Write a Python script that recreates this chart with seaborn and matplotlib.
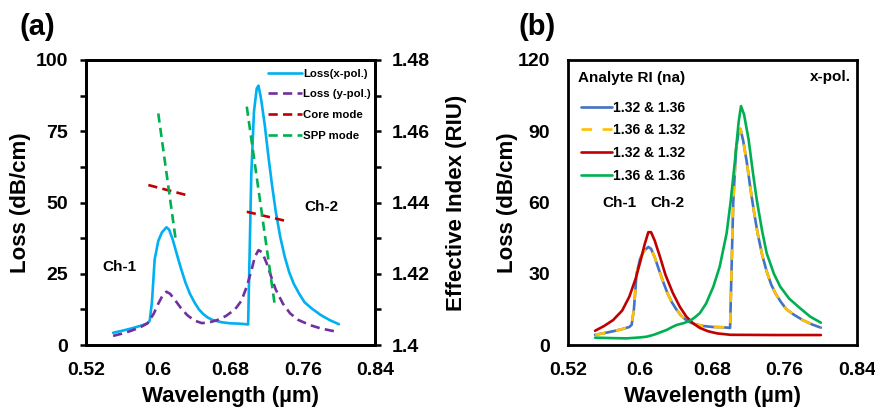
import numpy as np
import pandas as pd
import seaborn as sns
import matplotlib
matplotlib.use("Agg")
import matplotlib.pyplot as plt
from matplotlib.ticker import MultipleLocator

# ---------------- data ----------------
# Panel (a): loss spectra (x-pol, y-pol)
wl_x = [0.55, 0.56, 0.57, 0.58, 0.588, 0.5905, 0.593, 0.596, 0.600, 0.604, 0.609, 0.612,
        0.616, 0.620, 0.625, 0.630, 0.635, 0.640, 0.645, 0.650, 0.655, 0.660, 0.670,
        0.680, 0.690, 0.697, 0.6995, 0.701, 0.703, 0.706, 0.709, 0.711, 0.714, 0.718,
        0.722, 0.726, 0.730, 0.735, 0.740, 0.745, 0.750, 0.756, 0.762, 0.770, 0.780,
        0.790, 0.800]
loss_x = [4.3, 5.0, 5.8, 6.7, 7.6, 8.5, 15, 30, 36.5, 39.5, 41.3, 40.5,
          37, 32.5, 27, 22, 18, 15, 12.5, 10.8, 9.6, 8.8, 8.0,
          7.6, 7.5, 7.3, 7.2, 30, 60, 82, 90, 91, 86, 77,
          66, 56, 47, 38, 31, 25.5, 21.5, 18, 15, 12.8, 10.5,
          8.7, 7.3]

wl_y = [0.55, 0.56, 0.57, 0.58, 0.588, 0.595, 0.600, 0.605, 0.609, 0.613, 0.618, 0.625,
        0.632, 0.640, 0.648, 0.655, 0.665, 0.675, 0.685, 0.692, 0.698, 0.703, 0.707,
        0.711, 0.715, 0.720, 0.725, 0.730, 0.738, 0.746, 0.755, 0.768, 0.780, 0.797, 0.800]
loss_y = [3.2, 4.0, 5.0, 6.2, 7.6, 11, 14.5, 17.5, 18.7, 18, 16, 13,
          10.5, 8.6, 7.7, 7.8, 8.7, 10.2, 12.5, 15.5, 20.5, 26, 31,
          33.3, 32.5, 28.7, 24, 19.5, 14.5, 11.1, 8.8, 7.0, 5.8, 4.7, 4.5]

# Effective index (right axis)
core1_wl = [0.589, 0.631]
core1_n = [1.4449, 1.4421]
core2_wl = [0.698, 0.740]
core2_n = [1.4374, 1.4349]
spp1_wl = [0.600, 0.6196]
spp1_n = [1.4650, 1.4290]
spp2_wl = [0.698, 0.729]
spp2_n = [1.4669, 1.4112]

# Panel (b): x-pol loss for different analyte RI pairs
wl_rr = [0.55, 0.56, 0.57, 0.58, 0.588, 0.595, 0.600, 0.605, 0.609, 0.612, 0.616, 0.622,
         0.628, 0.636, 0.644, 0.651, 0.658, 0.666, 0.675, 0.685, 0.700, 0.750, 0.800]
loss_rr = [6, 8, 10.5, 14.5, 20.4, 28, 35, 42.5, 47.5, 47.5, 44, 37,
           29.5, 22, 16, 12, 9.3, 7.2, 5.8, 4.9, 4.3, 4.2, 4.2]

wl_gg = [0.55, 0.57, 0.585, 0.600, 0.607, 0.615, 0.622, 0.629, 0.635, 0.640, 0.648, 0.655,
         0.660, 0.666, 0.673, 0.681, 0.688, 0.6957, 0.700, 0.705, 0.709, 0.7116, 0.715,
         0.720, 0.725, 0.729, 0.735, 0.740, 0.748, 0.755, 0.765, 0.777, 0.788, 0.800]
loss_gg = [3.1, 2.9, 2.8, 3.2, 3.5, 4.3, 5.3, 6.3, 7.5, 8.4, 9.2, 10.2,
           11.5, 13.4, 17.5, 24.6, 33, 47.1, 60, 78, 94, 100.6, 97,
           86.5, 72, 61.2, 48, 38.7, 30, 24.6, 19.5, 15.5, 12, 9.4]

legend_a = ["Loss(x-pol.)", "Loss (y-pol.)", "Core mode", "SPP mode"]
legend_b = ["1.32 & 1.36", "1.36 & 1.32", "1.32 & 1.32", "1.36 & 1.36"]
xticks = [0.52, 0.6, 0.68, 0.76, 0.84]
xticklabels = ["0.52", "0.6", "0.68", "0.76", "0.84"]

# ---------------- style ----------------
sns.set_theme(style="white")
plt.rcParams["font.family"] = ["Liberation Sans", "DejaVu Sans"]
plt.rcParams["font.weight"] = "bold"
plt.rcParams["axes.labelweight"] = "bold"
plt.rcParams["text.color"] = "black"
plt.rcParams["axes.labelcolor"] = "black"
plt.rcParams["xtick.color"] = "black"
plt.rcParams["ytick.color"] = "black"
plt.rcParams["xtick.labelcolor"] = "black"
plt.rcParams["ytick.labelcolor"] = "black"

C_XPOL = "#00B0F0"
C_YPOL = "#7030A0"
C_RED = "#C00000"
C_GREEN = "#00B050"
C_BLUE = "#4472C4"
C_YEL = "#FFC000"

fig = plt.figure(figsize=(8.75, 4.07), dpi=100)
axA = fig.add_axes([0.0983, 0.1523, 0.3303, 0.7003])
axA2 = axA.twinx()
axB = fig.add_axes([0.6491, 0.1523, 0.3303, 0.7003])

LW = 1.9
TICK_FS = 14
LABEL_FS = 16

def style_axis(ax):
    for s in ["left", "right", "top", "bottom"]:
        ax.spines[s].set_linewidth(2.0)
        ax.spines[s].set_color("black")
    ax.tick_params(which="both", direction="out", width=1.8, length=4,
                   labelsize=TICK_FS, color="black", labelcolor="black")
    ax.tick_params(axis="x", which="both", pad=8)
    ax.tick_params(axis="y", which="both", pad=9)

# ---- Panel (a) ----
sns.lineplot(x=wl_x, y=loss_x, ax=axA, color=C_XPOL, lw=LW, label=legend_a[0])
sns.lineplot(x=wl_y, y=loss_y, ax=axA, color=C_YPOL, lw=LW, label=legend_a[1])
axA.lines[1].set_dashes([3.5, 2])
la = axA.get_legend()
if la: la.remove()

sns.lineplot(x=core1_wl, y=core1_n, ax=axA2, color=C_RED, lw=LW, label=legend_a[2])
sns.lineplot(x=core2_wl, y=core2_n, ax=axA2, color=C_RED, lw=LW)
sns.lineplot(x=spp1_wl, y=spp1_n, ax=axA2, color=C_GREEN, lw=LW, label=legend_a[3])
sns.lineplot(x=spp2_wl, y=spp2_n, ax=axA2, color=C_GREEN, lw=LW)
for ln in axA2.lines:
    ln.set_dashes([3.5, 2])
la2 = axA2.get_legend()
if la2: la2.remove()

axA.set_xlim(0.52, 0.84)
axA.set_ylim(0, 100)
axA2.set_ylim(1.40, 1.48)
axA.set_xticks(xticks)
axA.set_xticklabels(xticklabels)
axA.xaxis.set_minor_locator(MultipleLocator(0.04))
axA.yaxis.set_major_locator(MultipleLocator(25))
axA.yaxis.set_minor_locator(MultipleLocator(12.5))
axA2.set_yticks([1.40, 1.42, 1.44, 1.46, 1.48])
axA2.set_yticklabels(["1.4", "1.42", "1.44", "1.46", "1.48"])
axA2.yaxis.set_minor_locator(MultipleLocator(0.01))
style_axis(axA)
style_axis(axA2)
axA2.tick_params(axis="y", which="both", pad=8)
for t in axA.get_xticklabels() + axA.get_yticklabels() + axA2.get_yticklabels():
    t.set_fontweight("bold")
axA.set_xlabel("Wavelength (µm)", fontsize=LABEL_FS, fontweight="bold")
axA.set_ylabel("Loss (dB/cm)", fontsize=LABEL_FS, fontweight="bold")
axA2.set_ylabel("Effective Index (RIU)", fontsize=LABEL_FS, fontweight="bold")
axA.xaxis.set_label_coords(0.5, -0.145)
axA.yaxis.set_label_coords(-0.19, 0.5)
axA2.yaxis.set_label_coords(1.245, 0.5)

h1, l1 = axA.get_legend_handles_labels()
h2, l2 = axA2.get_legend_handles_labels()
axA2.legend(h1 + h2, l1 + l2, loc="upper left", bbox_to_anchor=(0.63, 0.97),
            frameon=False, prop={"size": 8.2, "weight": "bold"},
            handlelength=3.0, handletextpad=0.1, labelspacing=0.95,
            borderaxespad=0, borderpad=0.0)

axA.text(0.557, 27.5, "Ch-1", fontsize=11, fontweight="bold", ha="center", va="center")
axA.text(0.781, 48.3, "Ch-2", fontsize=11, fontweight="bold", ha="center", va="center")

# ---- Panel (b) ----
sns.lineplot(x=wl_x, y=loss_x, ax=axB, color=C_BLUE, lw=LW, label=legend_b[0])
sns.lineplot(x=wl_x, y=loss_x, ax=axB, color=C_YEL, lw=LW, label=legend_b[1])
sns.lineplot(x=wl_rr, y=loss_rr, ax=axB, color=C_RED, lw=LW, label=legend_b[2])
sns.lineplot(x=wl_gg, y=loss_gg, ax=axB, color=C_GREEN, lw=LW, label=legend_b[3])
axB.lines[1].set_dashes([4, 4])
axB.set_xlim(0.52, 0.84)
axB.set_ylim(0, 120)
axB.set_xticks(xticks)
axB.set_xticklabels(xticklabels)
axB.xaxis.set_minor_locator(MultipleLocator(0.04))
axB.yaxis.set_major_locator(MultipleLocator(30))
axB.yaxis.set_minor_locator(MultipleLocator(15))
style_axis(axB)
for t in axB.get_xticklabels() + axB.get_yticklabels():
    t.set_fontweight("bold")
axB.set_xlabel("Wavelength (µm)", fontsize=LABEL_FS, fontweight="bold")
axB.set_ylabel("Loss (dB/cm)", fontsize=LABEL_FS, fontweight="bold")
axB.xaxis.set_label_coords(0.5, -0.145)
axB.yaxis.set_label_coords(-0.172, 0.5)
hb, lb = axB.get_legend_handles_labels()
axB.legend(hb, lb, loc="upper left", bbox_to_anchor=(0.045, 0.857),
           frameon=False, prop={"size": 10, "weight": "bold"},
           handlelength=2.2, handletextpad=0.1, labelspacing=0.62,
           borderaxespad=0, borderpad=0.0)
axB.text(0.531, 112.5, "Analyte RI (na)", fontsize=11, fontweight="bold",
         ha="left", va="center")

axB.text(0.577, 59.8, "Ch-1", fontsize=11, fontweight="bold", ha="center", va="center")
axB.text(0.630, 59.8, "Ch-2", fontsize=11, fontweight="bold", ha="center", va="center")
axB.text(0.8335, 113, "x-pol.", fontsize=11, fontweight="bold", ha="right", va="center")

fig.text(37 / 875, 1 - 27 / 407, "(a)", fontsize=21, fontweight="bold", ha="center", va="center")
fig.text(537 / 875, 1 - 27 / 407, "(b)", fontsize=21, fontweight="bold", ha="center", va="center")

fig.savefig("out.png", dpi=100)
